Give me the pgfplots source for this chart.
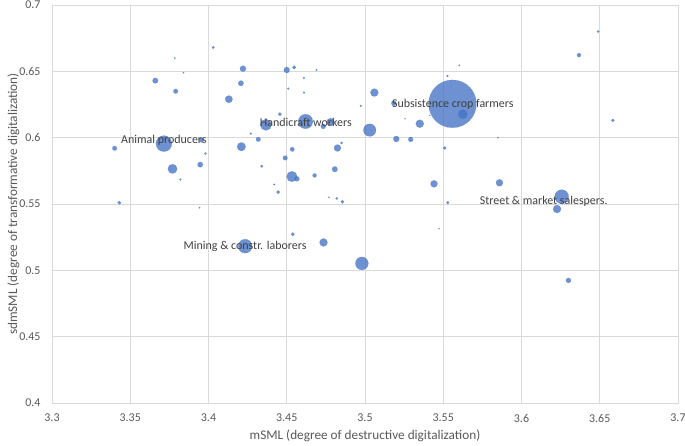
\documentclass[border=0pt]{standalone}
\usepackage{pgfplots}
\pgfplotsset{compat=1.18}
\usepackage{pgfplotstable}
\usepackage{fontspec}
\setmainfont{Carlito}
\usetikzlibrary{calc}
\definecolor{bub}{HTML}{4472C4}
\definecolor{gridc}{HTML}{D9D9D9}
\definecolor{tickc}{HTML}{595959}
\definecolor{lab}{HTML}{404040}
\tikzset{dl/.style={font=\fontsize{12}{14}\selectfont, text=lab, inner sep=0pt}}
\pgfplotstableread{
x y r
3.403 0.668 1.3
3.3785 0.660 0.8
3.384 0.649 0.8
3.366 0.643 2.8
3.379 0.635 2.3
3.422 0.652 3
3.4207 0.641 2.7
3.413 0.629 3.7
3.450 0.651 3
3.4547 0.653 1.8
3.469 0.651 0.8
3.461 0.645 1
3.451 0.637 1
3.461 0.634 1
3.4973 0.624 1
3.506 0.634 4
3.4456 0.6177 1.8
3.4367 0.6097 5.7
3.462 0.6122 7.3
3.4733 0.6085 2.5
3.478 0.6117 4
3.503 0.6057 6.3
3.427 0.603 1
3.4318 0.5987 2.3
3.421 0.5932 4.3
3.4535 0.5912 2.2
3.449 0.5847 2.3
3.4824 0.5922 3.5
3.485 0.596 1.2
3.434 0.5785 1.3
3.4533 0.5707 5.3
3.4565 0.569 2.5
3.4678 0.5715 2
3.4807 0.5762 2.8
3.442 0.5647 0.8
3.4445 0.559 1.8
3.477 0.555 0.8
3.482 0.5542 1.2
3.4856 0.5517 1.7
3.3715 0.5955 8
3.340 0.592 2.3
3.3956 0.5982 2.3
3.398 0.588 1.2
3.377 0.5765 4.7
3.3947 0.5797 2.7
3.382 0.5685 1
3.343 0.551 1.8
3.3943 0.5472 0.8
3.649 0.680 1.2
3.6367 0.6622 2
3.5603 0.6545 0.8
3.5527 0.6465 1
3.5559 0.6255 24
3.5625 0.6177 4.7
3.5184 0.626 2.5
3.535 0.6105 4
3.5256 0.6142 0.6
3.5414 0.6167 0.6
3.520 0.599 3
3.5292 0.5987 2.5
3.551 0.5922 1.6
3.585 0.600 0.7
3.6584 0.613 1.6
3.5441 0.5652 3.5
3.5859 0.566 3.5
3.5529 0.551 1.4
3.6257 0.5555 7
3.6227 0.5462 4
3.5473 0.5314 0.7
3.630 0.4924 2.5
3.4539 0.5272 1.8
3.4234 0.5182 7
3.4735 0.521 4
3.498 0.5052 6.5
}\bubbles
\begin{document}
\begin{tikzpicture}
\begin{axis}[
  name=ax,
  set layers,
  scale only axis,
  width=626bp, height=398bp,
  xmin=3.3, xmax=3.7, ymin=0.4, ymax=0.7,
  xtick={3.3,3.35,...,3.71},
  ytick={0.4,0.45,...,0.71},
  grid=major,
  major grid style={gridc, line width=0.75pt},
  axis line style={gridc, line width=0.75pt},
  tick style={draw=none},
  /pgf/number format/assume math mode=true,
  /pgf/number format/.cd, fixed, precision=2, /pgfplots/.cd,
  ticklabel style={font=\fontsize{12}{14}\selectfont, text=tickc},
  xticklabel style={yshift=-7.5bp},
  yticklabel style={xshift=-8bp},
  xlabel={mSML (degree of destructive digitalization)},
  ylabel={sdmSML (degree of transformative digitalization)},
  label style={font=\fontsize{13.3}{15}\selectfont, text=tickc},
  xlabel style={yshift=-1bp},
  ylabel style={yshift=-7bp},
  clip=false,
]
\addplot[scatter, only marks, mark=*,
  scatter/use mapped color={draw=bub, fill=bub},
  mark options={line width=0.1pt},
  opacity=0.78,
  visualization depends on={\thisrow{r}\as\rr},
  scatter/@pre marker code/.append style={/tikz/mark size=\rr}]
  table[x=x, y=y] {\bubbles};
\begin{pgfonlayer}{axis foreground}
\node[dl] at (axis cs:3.3715,0.5977) {Animal producers};
\node[dl] at (axis cs:3.4622,0.6117) {Handicraft workers};
\node[dl] at (axis cs:3.5561,0.6252) {Subsistence crop farmers};
\node[dl] at (axis cs:3.6142,0.5517) {Street \& market salespers.};
\node[dl] at (axis cs:3.4234,0.5177) {Mining \& constr. laborers};
\end{pgfonlayer}
\end{axis}
\pgfresetboundingbox
\path[use as bounding box] ($(ax.south west)+(-52bp,-43bp)$) rectangle ($(ax.north east)+(7bp,5bp)$);
\end{tikzpicture}
\end{document}
